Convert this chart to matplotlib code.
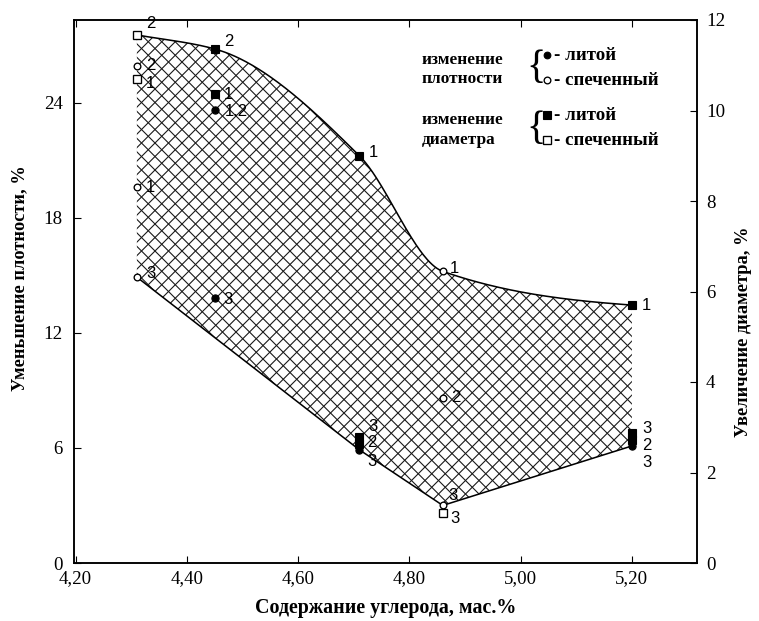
import numpy as np
import matplotlib
matplotlib.use("Agg")
from matplotlib import pyplot as plt
from matplotlib.ticker import FuncFormatter
from matplotlib.patches import Polygon
from matplotlib.collections import LineCollection

plt.rcParams['font.family'] = ['Liberation Serif', 'DejaVu Serif']

# carbon content of the five alloys
x_sint_a = 4.31
x_cast_a = 4.45
x_cast_b = 4.71
x_sint_b = 4.86
x_cast_c = 5.20

# density decrease, % (left axis)
dens_sint_x = [x_sint_a, x_sint_a, x_sint_a, x_sint_b, x_sint_b, x_sint_b]
dens_sint_y = [25.9, 19.6, 14.9, 15.2, 8.6, 3.0]
dens_sint_lab = ['2', '1', '3', '1', '2', '3']

dens_cast_x = [x_cast_a, x_cast_a, x_cast_b, x_cast_c]
dens_cast_y = [23.6, 13.8, 5.9, 6.1]
dens_cast_lab = ['1.2', '3', '3', '3']

# diameter increase, % (right axis)
diam_sint_x = [x_sint_a, x_sint_a, x_sint_b]
diam_sint_y = [11.67, 10.7, 1.1]
diam_sint_lab = ['2', '1', '3']

diam_cast_x = [x_cast_a, x_cast_a, x_cast_b, x_cast_b, x_cast_b, x_cast_c, x_cast_c, x_cast_c]
diam_cast_y = [11.36, 10.36, 9.0, 2.78, 2.63, 5.7, 2.87, 2.72]
diam_cast_lab = ['2', '1', '1', '3', '2', '1', '3', '2']

x_ticks = [4.20, 4.40, 4.60, 4.80, 5.00, 5.20]
yl_ticks = [0, 6, 12, 18, 24]
yr_ticks = [0, 2, 4, 6, 8, 10, 12]

X_MIN, X_MAX = 4.197, 5.317
YL_MAX = 28.3
YR_MAX = 12.0
K = YL_MAX / YR_MAX

# label offsets in pixels: left edge from marker, centre above marker
off_dens_sint = [(9, 1), (9, -1), (9, 4), (7, 3), (8, 0), (6, 10)]
off_dens_cast = [(10, -1), (9, -1), (8, -12), (10, -17)]
off_diam_sint = [(9, 11), (9, -5), (8, -5)]
off_diam_cast = [(9, 7), (9, 0), (9, 3), (9, 11), (8, 1), (10, 0), (10, 5), (10, -6)]


def pchip(xk, yk, xs):
    xk = np.asarray(xk, float)
    yk = np.asarray(yk, float)
    h = np.diff(xk)
    d = np.diff(yk) / h
    m = np.zeros_like(yk)
    m[0] = d[0]
    m[-1] = d[-1] * 0.4
    for k in range(1, len(xk) - 1):
        if d[k - 1] * d[k] > 0:
            w1 = 2 * h[k] + h[k - 1]
            w2 = h[k] + 2 * h[k - 1]
            m[k] = (w1 + w2) / (w1 / d[k - 1] + w2 / d[k])
    out = np.empty_like(xs)
    idx = np.clip(np.searchsorted(xk, xs) - 1, 0, len(xk) - 2)
    for i, x in enumerate(xs):
        k = idx[i]
        t = (x - xk[k]) / h[k]
        h00 = 2 * t**3 - 3 * t**2 + 1
        h10 = t**3 - 2 * t**2 + t
        h01 = -2 * t**3 + 3 * t**2
        h11 = t**3 - t**2
        out[i] = h00 * yk[k] + h10 * h[k] * m[k] + h01 * yk[k + 1] + h11 * h[k] * m[k + 1]
    return out


W, H = 759, 621
L, B, AW, AH = 74, 58, 623, 543
fig = plt.figure(figsize=(W / 80, H / 80), dpi=80)
ax = fig.add_axes([L / W, B / H, AW / W, AH / H])
ax2 = ax.twinx()

# envelope of the data (upper: diameter points, lower: density points)
up_x = [x_sint_a, x_cast_a, x_cast_b, x_sint_b, x_cast_c]
up_y = [diam_sint_y[0] * K, diam_cast_y[0] * K, diam_cast_y[2] * K, dens_sint_y[3], diam_cast_y[5] * K]
lo_x = [x_sint_a, x_cast_b, x_sint_b, x_cast_c]
lo_y = [dens_sint_y[2], dens_cast_y[2], dens_sint_y[5], dens_cast_y[3]]

xs = np.linspace(x_sint_a, x_cast_c, 400)
upper = pchip(up_x, up_y, xs)
lower = np.interp(xs, lo_x, lo_y)

# cross hatching, 45 degrees on screen, clipped to the envelope
verts = np.vstack([np.column_stack([xs, upper]), np.column_stack([xs[::-1], lower[::-1]])])
region = Polygon(verts, closed=True, fc='none', ec='none')
ax.add_patch(region)
sx = AW / (X_MAX - X_MIN)
sy = AH / YL_MAX
step = 13.5
u0, u1 = (x_sint_a - X_MIN) * sx, (x_cast_c - X_MIN) * sx
segs = []
for sgn in (1, -1):
    for c in np.arange(-1200, 1800, step):
        u = np.array([u0 - 5, u1 + 5])
        v = c + sgn * u
        segs.append(np.column_stack([X_MIN + u / sx, v / sy]))
hatch = LineCollection(segs, colors='#1a1a1a', linewidths=1.0)
ax.add_collection(hatch)
hatch.set_clip_path(region)

ax.plot(xs, upper, color='black', lw=1.4)
ax.plot(lo_x, lo_y, color='black', lw=1.4)

ms = 6.5
ax.plot(dens_sint_x, dens_sint_y, 'o', ms=ms - 0.5, mfc='white', mec='black', mew=1.2, ls='none')
ax.plot(dens_cast_x, dens_cast_y, 'o', ms=ms, mfc='black', mec='black', ls='none')
ax2.plot(diam_sint_x, diam_sint_y, 's', ms=ms, mfc='white', mec='black', mew=1.2, ls='none')
ax2.plot(diam_cast_x, diam_cast_y, 's', ms=ms, mfc='black', mec='black', ls='none')

lab_kw = dict(textcoords='offset pixels', fontsize=15, family=['Liberation Sans', 'DejaVu Sans'],
              ha='left', va='center')
for a, xx, yy, ll, oo in [(ax, dens_sint_x, dens_sint_y, dens_sint_lab, off_dens_sint),
                          (ax, dens_cast_x, dens_cast_y, dens_cast_lab, off_dens_cast),
                          (ax2, diam_sint_x, diam_sint_y, diam_sint_lab, off_diam_sint),
                          (ax2, diam_cast_x, diam_cast_y, diam_cast_lab, off_diam_cast)]:
    for xi, yi, li, oi in zip(xx, yy, ll, oo):
        a.annotate(li, (xi, yi), xytext=oi, **lab_kw)

ax.set_xlim(X_MIN, X_MAX)
ax.set_ylim(0, YL_MAX)
ax2.set_ylim(0, YR_MAX)
ax.set_xticks(x_ticks)
ax.set_yticks(yl_ticks)
ax2.set_yticks(yr_ticks)
ax.xaxis.set_major_formatter(FuncFormatter(lambda v, p: ('%.2f' % v).replace('.', ',')))
ax.tick_params(axis='x', direction='in', top=True, length=6, width=1, labelsize=17, pad=6)
ax.tick_params(axis='y', direction='in', length=6, width=1, labelsize=17, pad=10)
ax2.tick_params(axis='y', direction='in', length=6, width=1, labelsize=17, pad=8)
for a in (ax, ax2):
    for s in a.spines.values():
        s.set_linewidth(1.4)

ax.set_xlabel('Содержание углерода, мас.%', fontsize=18, fontweight='bold', labelpad=10)
ax.set_ylabel('Уменьшение плотности, %', fontsize=16.5, fontweight='bold')
ax2.set_ylabel('Увеличение диаметра, %', fontsize=16.5, fontweight='bold')
ax.yaxis.set_label_coords(-0.074, 0.525)
ax2.yaxis.set_label_coords(1.061, 0.425)

# legend drawn by hand
tr = ax.transAxes
leg_kw = dict(transform=tr, fontsize=15.5, fontweight='bold', va='center', ha='left')
ax.text(0.5586, 0.927, 'изменение', **leg_kw)
ax.text(0.5586, 0.891, 'плотности', **leg_kw)
ax.text(0.5586, 0.815, 'изменение', **leg_kw)
ax.text(0.5586, 0.779, 'диаметра', **leg_kw)
ax.text(0.742, 0.911, '{', transform=tr, fontsize=36, va='center', ha='center', fontweight='light')
ax.text(0.742, 0.799, '{', transform=tr, fontsize=36, va='center', ha='center', fontweight='light')
ax.plot([0.7592], [0.9355], 'o', ms=6, mfc='black', mec='black', transform=tr)
ax.plot([0.7592], [0.8895], 'o', ms=6, mfc='white', mec='black', mew=1.2, transform=tr)
ax.plot([0.7592], [0.825], 's', ms=6.5, mfc='black', mec='black', transform=tr)
ax.plot([0.7592], [0.779], 's', ms=6.5, mfc='white', mec='black', mew=1.2, transform=tr)
leg_kw['fontsize'] = 17
ax.text(0.7705, 0.9355, '- литой', **leg_kw)
ax.text(0.7705, 0.8895, '- спеченный', **leg_kw)
ax.text(0.7705, 0.825, '- литой', **leg_kw)
ax.text(0.7705, 0.779, '- спеченный', **leg_kw)

fig.savefig('out.png', dpi=80)
